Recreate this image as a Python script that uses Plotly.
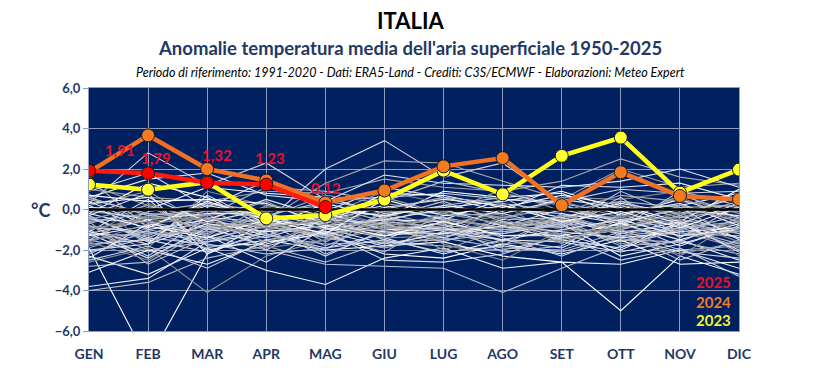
import plotly.graph_objects as go

months = ["GEN", "FEB", "MAR", "APR", "MAG", "GIU", "LUG", "AGO", "SET", "OTT", "NOV", "DIC"]

y2025 = [1.91, 1.79, 1.32, 1.23, 0.12]
y2024 = [1.85, 3.66, 2.00, 1.43, 0.34, 0.94, 2.13, 2.54, 0.21, 1.84, 0.67, 0.50]
y2023 = [1.23, 0.98, 1.35, -0.44, -0.28, 0.49, 1.92, 0.75, 2.65, 3.55, 0.83, 1.97]

# earlier years (1950-2022)
past_years = [
    [-1.9, -7.5, -2.2, -1.0, -1.2, -0.8, -1.0, -0.9, -0.5, -1.2, -0.6, -1.4],
    [-0.3, -1.6, -0.4, -0.6, 2.0, 3.4, 1.6, 2.3, 0.3, -0.9, 0.9, 0.2],
    [0.2, 0.9, -0.8, -0.5, 1.3, 2.4, 2.3, 1.4, 0.5, 2.0, 1.1, 1.3],
    [-3.8, -3.4, -1.6, -1.2, -1.9, -1.2, -0.9, -1.5, -1.6, -2.1, -1.5, -2.5],
    [-4.0, -3.6, -2.4, -1.8, -2.6, -1.6, -1.8, -2.0, -1.4, -1.0, -2.0, -1.8],
    [-2.6, -1.9, -4.1, -2.3, -1.5, -1.0, -1.2, -0.7, -1.1, -1.4, -2.2, -1.6],
    [-2.3, -3.2, -1.9, -3.0, -3.7, -2.4, -1.9, -2.9, -2.6, -2.7, -2.0, -2.9],
    [-1.5, -2.1, -1.3, -2.0, -2.7, -2.8, -2.9, -4.1, -2.9, -1.8, -1.6, -2.2],
    [-1.2, -0.5, -2.0, -1.5, -2.0, -1.8, -1.6, -2.3, -2.6, -5.0, -2.3, -3.2],
    [0.3, 2.8, 1.2, 2.3, 0.5, 0.6, 0.8, 0.5, 0.4, 1.0, 0.8, 0.9],
    [1.0, 0.6, 0.4, 0.9, 0.8, 1.5, 1.1, 0.9, 1.4, 2.5, 1.6, 1.2],
    [0.6, 1.5, 1.8, 0.7, 0.4, 1.7, 1.3, 1.2, 1.1, 1.4, 2.0, 1.1],
    [-0.8, -1.2, -0.6, -0.9, -1.1, -0.7, -0.4, -0.9, -0.6, -0.8, -0.5, -1.0],
    [-1.4, -0.3, -0.9, -0.4, -0.6, -1.2, -0.8, -0.3, -1.0, -0.5, -1.3, -0.6],
    [0.4, -0.8, 0.2, -0.3, -0.5, 0.1, 0.5, 0.2, -0.4, 0.3, -0.2, 0.6],
    [-2.2, -1.0, -1.5, -0.8, -1.4, -1.9, -1.3, -1.1, -0.8, -1.6, -0.9, -1.7],
    [-0.2, 1.3, 0.6, -0.9, 0.3, -0.4, 0.9, 0.6, 0.8, -0.3, 0.5, -0.4],
    [-1.0, -2.3, -0.4, -1.3, -0.2, -0.9, -1.6, -0.6, -1.4, -1.0, -0.3, -1.2],
    [1.2, 0.2, -0.5, 0.4, -0.9, 0.6, -0.2, 1.0, -0.1, 0.7, 0.4, 0.1],
    [-1.7, -1.5, -2.1, -1.1, -0.8, -1.4, -2.2, -1.5, -1.9, -0.6, -1.8, -0.8],
    [-0.5, -0.6, -1.2, -0.1, -1.6, -0.3, -1.1, -1.8, -0.2, -1.3, -1.0, -0.3],
    [0.8, -1.9, 0.9, 0.2, -0.3, 0.9, 0.3, -0.5, 0.6, 0.5, 0.9, -0.7],
    [-1.1, 0.5, -1.8, -1.7, -1.0, -0.5, -0.6, -1.3, -1.2, -2.0, -0.7, -2.0],
    [-2.8, -2.6, -1.0, -0.6, -2.2, -1.1, -1.4, -1.9, -2.0, -1.1, -2.5, -1.5],
    [0.1, 0.0, 1.1, 0.8, 0.6, -0.2, 0.1, 0.4, 0.9, 0.0, 0.2, 0.8],
    [-0.4, -1.4, -0.2, -2.0, -0.4, -1.5, -0.3, -0.2, -0.9, 0.6, -1.4, 0.2],
    [-1.9, -0.9, -1.1, -0.5, -1.8, -0.6, -2.0, -1.0, -0.5, -1.7, -1.1, -1.9],
    [0.9, 1.8, 0.1, 1.4, -0.1, 1.1, 0.6, -0.1, 1.2, 1.1, 1.3, 0.5],
    [-0.6, -2.7, -1.4, -0.2, -1.3, -2.1, -0.5, -1.6, -0.3, -0.4, -0.8, -1.1],
    [-1.3, 0.3, -0.7, -1.4, 0.1, -0.8, -1.5, 0.3, -1.6, -0.9, -0.1, -2.3],
    [-2.0, -1.7, 0.7, -0.7, -0.7, -1.3, -1.0, -1.2, -0.7, -2.3, -1.7, -0.9],
    [0.5, -0.2, -0.3, 1.1, 0.9, 0.4, 1.4, 0.8, 0.2, -0.6, 0.7, -0.2],
    [-3.1, -2.0, -2.7, -1.6, -1.2, -2.2, -2.4, -1.7, -2.2, -1.5, -2.7, -2.6],
    [-0.9, -1.1, -1.6, -1.0, -2.3, -1.0, -0.7, -2.1, -1.8, -0.2, -1.2, -1.3],
    [-0.1, -0.4, -0.1, -0.4, 0.7, 0.3, -0.1, -0.4, 0.1, -0.5, -0.4, 0.4],
    [-2.4, -0.7, -1.3, -2.6, -0.9, -1.7, -1.2, -0.8, -1.5, -1.9, -0.6, -2.1],
    [1.5, -0.9, 0.3, -0.1, 0.2, -0.6, 0.2, 0.6, -0.8, 0.9, -0.3, 0.7],
    [-1.6, -2.5, -0.8, -1.9, -1.5, -0.4, -1.7, -2.5, -1.0, -1.1, -2.3, -0.5],
    [-0.3, 0.8, -2.2, -0.6, -0.2, -1.0, -0.9, 0.0, -0.2, -0.7, 0.1, -1.5],
    [-1.2, -1.3, 0.0, -1.2, -2.0, 0.0, -0.4, -1.4, -2.3, -1.2, -0.9, -0.6],
    [0.7, 0.4, 0.5, 0.3, -0.7, 0.8, 0.7, 0.1, 0.7, 0.2, -0.6, 1.0],
    [-2.5, -1.8, -2.9, -1.5, -1.1, -2.5, -2.6, -2.2, -1.3, -2.5, -1.9, -3.3],
    [-0.7, 0.1, -0.9, -0.8, -0.6, -0.1, -0.2, -0.7, -0.5, 0.2, -0.2, -0.1],
    [0.2, -1.0, -0.5, 0.5, -0.4, 0.2, -0.5, 0.5, 0.3, -0.2, 0.3, -0.8],
    [-1.5, -0.1, 0.3, -0.3, -1.0, -0.4, 0.4, -0.6, -0.9, 0.4, -0.4, 0.0],
    [-0.9, -0.6, -0.3, 0.1, -0.3, -0.9, -0.7, -0.2, 0.4, -0.4, 0.6, -0.5],
    [-1.1, -1.7, -0.7, -1.1, -0.8, -1.1, -1.2, -0.8, -1.1, -1.4, -1.1, -0.9],
    [-0.6, -0.2, -1.0, -0.7, -1.3, -0.6, -0.9, -1.1, -0.7, -0.9, -0.6, -1.2],
    [-1.3, -0.8, -1.4, -0.5, -0.9, -1.3, -0.6, -1.3, -1.3, -0.7, -1.5, -0.7],
    [-0.4, -1.5, -0.8, -1.4, -0.5, -0.7, -1.4, -0.5, -0.4, -1.1, -0.8, -1.4],
    [-1.8, -1.2, -1.1, -0.9, -1.2, -0.9, -1.0, -1.7, -1.5, -0.8, -1.3, -1.1],
    [0.0, -0.5, -0.2, -0.2, -0.8, -0.5, 0.0, -0.8, 0.0, -0.6, 0.0, -0.3],
    [-0.8, -2.0, -1.6, -0.6, -1.4, -0.2, -0.8, -1.0, -0.8, -1.5, -1.6, -0.4],
    [-1.0, -0.4, -0.5, -1.6, -0.7, -1.4, -1.3, -0.4, -1.7, -0.3, -0.5, -1.6],
    [0.3, 0.6, -0.6, 0.0, 0.0, -0.3, 0.2, -0.2, 0.5, 0.1, -0.7, 0.3],
    [-1.5, -1.1, -1.9, -1.3, -1.7, -1.6, -1.5, -1.2, -0.6, -1.8, -1.0, -1.8],
    [-0.2, -0.9, 0.4, -0.5, -1.2, 0.5, -0.3, 0.2, -0.6, -0.1, -0.9, 0.1],
    [-2.1, -1.4, -1.7, -2.2, -1.9, -1.5, -2.1, -1.8, -2.1, -1.3, -2.1, -2.4],
    [-0.5, 0.2, -1.3, 0.2, -0.1, -0.8, -0.5, -0.9, -0.3, -1.0, 0.2, -0.6],
    [-1.2, -2.4, -0.9, -1.8, -1.1, -1.8, -1.1, -1.5, -1.0, -0.5, -1.3, -1.0],
    [0.6, -0.3, 0.0, -0.3, 0.4, 0.0, 0.6, 0.3, -0.1, 0.4, 0.1, 0.2],
    [-1.6, -0.7, -0.4, -0.9, -0.5, -1.0, -0.2, -0.7, -1.2, -0.9, -0.2, -1.0],
]

NAVY = "#1f3864"
gray_cycle = ["#ffffff", "#cfd3e0", "#a6a6a6", "#e4e8f2", "#bfbfbf", "#8c8c8c", "#f0f0f0", "#b8bfd4"]

fig = go.Figure()

for i, row in enumerate(past_years):
    fig.add_trace(go.Scatter(
        x=months, y=row, mode="lines",
        line=dict(color=gray_cycle[i % len(gray_cycle)], width=1.1),
        hoverinfo="skip", showlegend=False))

fig.add_trace(go.Scatter(
    x=months, y=[0] * len(months), mode="lines",
    line=dict(color="#000000", width=2.5), hoverinfo="skip", showlegend=False))

series = [
    ("2023", y2023, "#ffff1a", "#ffff33"),
    ("2024", y2024, "#f07025", "#f47a20"),
    ("2025", y2025, "#ff1a10", "#ff0000"),
]
for name, vals, lc, mc in series:
    fig.add_trace(go.Scatter(
        x=months[:len(vals)], y=vals, mode="lines+markers", name=name,
        line=dict(color=lc, width=4.5),
        marker=dict(size=13, color=mc, line=dict(color="#1a1a1a", width=1)),
        showlegend=False))

# data labels for 2025
label_shift = [(31, 21), (8, 15), (10, 28), (4, 27), (1, 19)]
for m, v, (dx, dy) in zip(months, y2025, label_shift):
    fig.add_annotation(x=m, y=v, text=f"{v:.2f}".replace(".", ","), showarrow=False,
                       xshift=dx, yshift=dy,
                       font=dict(family="Lato", size=15, color="#e8122a", weight="bold"))

# legend-like labels inside the plot
for txt, col, yp in [("2025", "#e8122a", 0.203), ("2024", "#ee7b30", 0.118), ("2023", "#f2f230", 0.045)]:
    fig.add_annotation(x=0.961, y=yp, xref="paper", yref="paper", text=txt, showarrow=False,
                       xanchor="center", yanchor="middle",
                       font=dict(family="Lato", size=15, color=col, weight="bold"))

fig.add_annotation(x=-0.075, y=0, xref="paper", yref="y", text="°C", showarrow=False,
                   xanchor="center", yanchor="middle",
                   font=dict(family="Lato", size=18, color=NAVY, weight="bold"))

# titles
titles = [
    ("ITALIA", 20, dict(family="Lato", size=22, color="#000000", weight="bold")),
    ("Anomalie temperatura media dell'aria superficiale 1950-2025", 48,
     dict(family="Lato", size=18.5, color=NAVY, weight="bold")),
    ("Periodo di riferimento: 1991-2020 - Dati: ERA5-Land - Crediti: C3S/ECMWF - Elaborazioni: Meteo Expert", 72,
     dict(family="Lato", size=12.5, color="#000000", style="italic")),
]
plot_top, plot_h = 88, 246
for txt, ypx, f in titles:
    fig.add_annotation(x=(410 - 89) / 650, y=1 + (plot_top - ypx) / plot_h, xref="paper", yref="paper",
                       text=txt, showarrow=False, xanchor="center", yanchor="middle", font=f)

fig.update_layout(
    width=821, height=374,
    margin=dict(l=89, r=82, t=88, b=40),
    paper_bgcolor="#ffffff", plot_bgcolor="#002060",
    separators=",.",
    showlegend=False,
    xaxis=dict(range=[0, 11], showgrid=True, gridcolor="#8d9bbd", gridwidth=1,
               tickfont=dict(family="Lato", size=14, color=NAVY, weight="bold"),
               ticks="", ticklabelstandoff=10, showline=True, linecolor="#8d9bbd", mirror=True,
               zeroline=False),
    yaxis=dict(range=[-6, 6], tickvals=[-6, -4, -2, 0, 2, 4, 6], tickformat=".1f",
               showgrid=True, gridcolor="#8d9bbd", gridwidth=1,
               tickfont=dict(family="Lato", size=13, color=NAVY, weight="bold"),
               ticks="outside", ticklen=5, tickcolor="#8d9bbd",
               showline=True, linecolor="#8d9bbd", mirror=True, zeroline=False),
)

fig.write_html("out.html", config={"displayModeBar": False},
               post_script="document.body.style.margin='0px';")
